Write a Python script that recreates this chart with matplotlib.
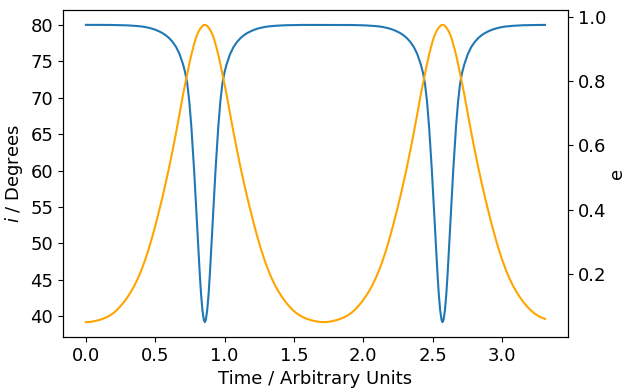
import matplotlib
matplotlib.use("Agg")
import matplotlib.pyplot as plt

time = [
    0.000, 0.025, 0.050, 0.075, 0.100, 0.125, 0.150, 0.175, 0.200, 0.225,
    0.250, 0.275, 0.300, 0.325, 0.350, 0.375, 0.400, 0.425, 0.450, 0.475,
    0.500, 0.525, 0.550, 0.575, 0.600, 0.625, 0.650, 0.675, 0.700, 0.715,
    0.730, 0.745, 0.760, 0.770, 0.780, 0.790, 0.800, 0.810, 0.820, 0.830,
    0.840, 0.850, 0.857,
    0.864, 0.874, 0.884, 0.894, 0.904, 0.914, 0.924, 0.934, 0.944, 0.954,
    0.969, 0.984, 0.999, 1.014, 1.039, 1.064, 1.089, 1.114, 1.139, 1.164,
    1.189, 1.214, 1.239, 1.264, 1.289, 1.314, 1.339, 1.364, 1.389, 1.414,
    1.439, 1.464, 1.489, 1.514, 1.539, 1.564, 1.589, 1.614, 1.639, 1.664,
    1.689, 1.714,
    1.739, 1.764, 1.789, 1.814, 1.839, 1.864, 1.889, 1.914, 1.939, 1.964,
    1.989, 2.014, 2.039, 2.064, 2.089, 2.114, 2.139, 2.164, 2.189, 2.214,
    2.239, 2.264, 2.289, 2.314, 2.339, 2.364, 2.389, 2.414, 2.429, 2.444,
    2.459, 2.474, 2.484, 2.494, 2.504, 2.514, 2.524, 2.534, 2.544, 2.554,
    2.564, 2.571,
    2.578, 2.588, 2.598, 2.608, 2.618, 2.628, 2.638, 2.648, 2.658, 2.668,
    2.683, 2.698, 2.713, 2.728, 2.753, 2.778, 2.803, 2.828, 2.853, 2.878,
    2.903, 2.928, 2.953, 2.978, 3.003, 3.028, 3.053, 3.078, 3.103, 3.128,
    3.153, 3.178, 3.203, 3.228, 3.253, 3.278, 3.303, 3.310]

inclination = [
    80.00, 80.00, 80.00, 80.00, 80.00, 79.99, 79.99, 79.99, 79.98, 79.97,
    79.96, 79.95, 79.93, 79.90, 79.87, 79.83, 79.78, 79.71, 79.61, 79.49,
    79.33, 79.13, 78.89, 78.58, 78.18, 77.65, 76.96, 75.98, 74.58, 73.50,
    72.00, 69.50, 66.00, 63.00, 60.00, 56.60, 53.00, 49.50, 46.00, 43.00,
    40.80, 39.50, 39.20,
    39.50, 40.80, 43.00, 46.00, 49.50, 53.00, 56.60, 60.00, 63.00, 66.00,
    69.50, 72.00, 73.50, 74.58, 75.98, 76.96, 77.65, 78.18, 78.58, 78.89,
    79.13, 79.33, 79.49, 79.61, 79.71, 79.78, 79.83, 79.87, 79.90, 79.93,
    79.95, 79.96, 79.97, 79.98, 79.99, 79.99, 79.99, 80.00, 80.00, 80.00,
    80.00, 80.00,
    80.00, 80.00, 80.00, 80.00, 79.99, 79.99, 79.99, 79.98, 79.97, 79.96,
    79.95, 79.93, 79.90, 79.87, 79.83, 79.78, 79.71, 79.61, 79.49, 79.33,
    79.13, 78.89, 78.58, 78.18, 77.65, 76.96, 75.98, 74.58, 73.50, 72.00,
    69.50, 66.00, 63.00, 60.00, 56.60, 53.00, 49.50, 46.00, 43.00, 40.80,
    39.50, 39.20,
    39.50, 40.80, 43.00, 46.00, 49.50, 53.00, 56.60, 60.00, 63.00, 66.00,
    69.50, 72.00, 73.50, 74.58, 75.98, 76.96, 77.65, 78.18, 78.58, 78.89,
    79.13, 79.33, 79.49, 79.61, 79.71, 79.78, 79.83, 79.87, 79.90, 79.93,
    79.95, 79.96, 79.97, 79.98, 79.99, 79.99, 79.99, 79.99]

eccentricity = [
    0.0500, 0.0505, 0.0520, 0.0543, 0.0573, 0.0610, 0.0655, 0.0715, 0.0790, 0.0885,
    0.1000, 0.1130, 0.1280, 0.1450, 0.1640, 0.1865, 0.2120, 0.2415, 0.2740, 0.3105,
    0.3500, 0.3920, 0.4360, 0.4830, 0.5320, 0.5850, 0.6400, 0.6980, 0.7580, 0.7900,
    0.8220, 0.8530, 0.8820, 0.8990, 0.9150, 0.9300, 0.9420, 0.9520, 0.9600, 0.9660,
    0.9710, 0.9740, 0.9745,
    0.9740, 0.9710, 0.9660, 0.9600, 0.9520, 0.9420, 0.9300, 0.9150, 0.8990, 0.8820,
    0.8530, 0.8220, 0.7900, 0.7580, 0.6980, 0.6400, 0.5850, 0.5320, 0.4830, 0.4360,
    0.3920, 0.3500, 0.3105, 0.2740, 0.2415, 0.2120, 0.1865, 0.1640, 0.1450, 0.1280,
    0.1130, 0.1000, 0.0885, 0.0790, 0.0715, 0.0655, 0.0610, 0.0573, 0.0543, 0.0520,
    0.0505, 0.0500,
    0.0505, 0.0520, 0.0543, 0.0573, 0.0610, 0.0655, 0.0715, 0.0790, 0.0885, 0.1000,
    0.1130, 0.1280, 0.1450, 0.1640, 0.1865, 0.2120, 0.2415, 0.2740, 0.3105, 0.3500,
    0.3920, 0.4360, 0.4830, 0.5320, 0.5850, 0.6400, 0.6980, 0.7580, 0.7900, 0.8220,
    0.8530, 0.8820, 0.8990, 0.9150, 0.9300, 0.9420, 0.9520, 0.9600, 0.9660, 0.9710,
    0.9740, 0.9745,
    0.9740, 0.9710, 0.9660, 0.9600, 0.9520, 0.9420, 0.9300, 0.9150, 0.8990, 0.8820,
    0.8530, 0.8220, 0.7900, 0.7580, 0.6980, 0.6400, 0.5850, 0.5320, 0.4830, 0.4360,
    0.3920, 0.3500, 0.3105, 0.2740, 0.2415, 0.2120, 0.1865, 0.1640, 0.1450, 0.1280,
    0.1130, 0.1000, 0.0885, 0.0790, 0.0715, 0.0655, 0.0610, 0.0600]

x_ticks = [0.0, 0.5, 1.0, 1.5, 2.0, 2.5, 3.0]
i_ticks = [40, 45, 50, 55, 60, 65, 70, 75, 80]
e_ticks = [0.2, 0.4, 0.6, 0.8, 1.0]

plt.rcParams['font.family'] = ['DejaVu Sans']
fs = 13
fig = plt.figure(figsize=(6.27, 3.90), dpi=100)
ax1 = fig.add_axes([63/627, 1 - 337/390, (568 - 63)/627, (337 - 10)/390])
ax1.plot(time, inclination, color='#1f77b4', lw=1.5)
ax1.set_xlabel('Time / Arbitrary Units', fontsize=fs)
ax1.set_ylabel('$i$ / Degrees', fontsize=fs)
ax1.tick_params(labelsize=fs)
ax1.set_xticks(x_ticks)
ax1.set_yticks(i_ticks)

ax2 = ax1.twinx()
ax2.plot(time, eccentricity, color='orange', lw=1.5)
ax2.set_ylabel('e', fontsize=fs, labelpad=1)
ax2.tick_params(labelsize=fs)
ax2.set_yticks(e_ticks)

fig.savefig('out.png', dpi=100)
